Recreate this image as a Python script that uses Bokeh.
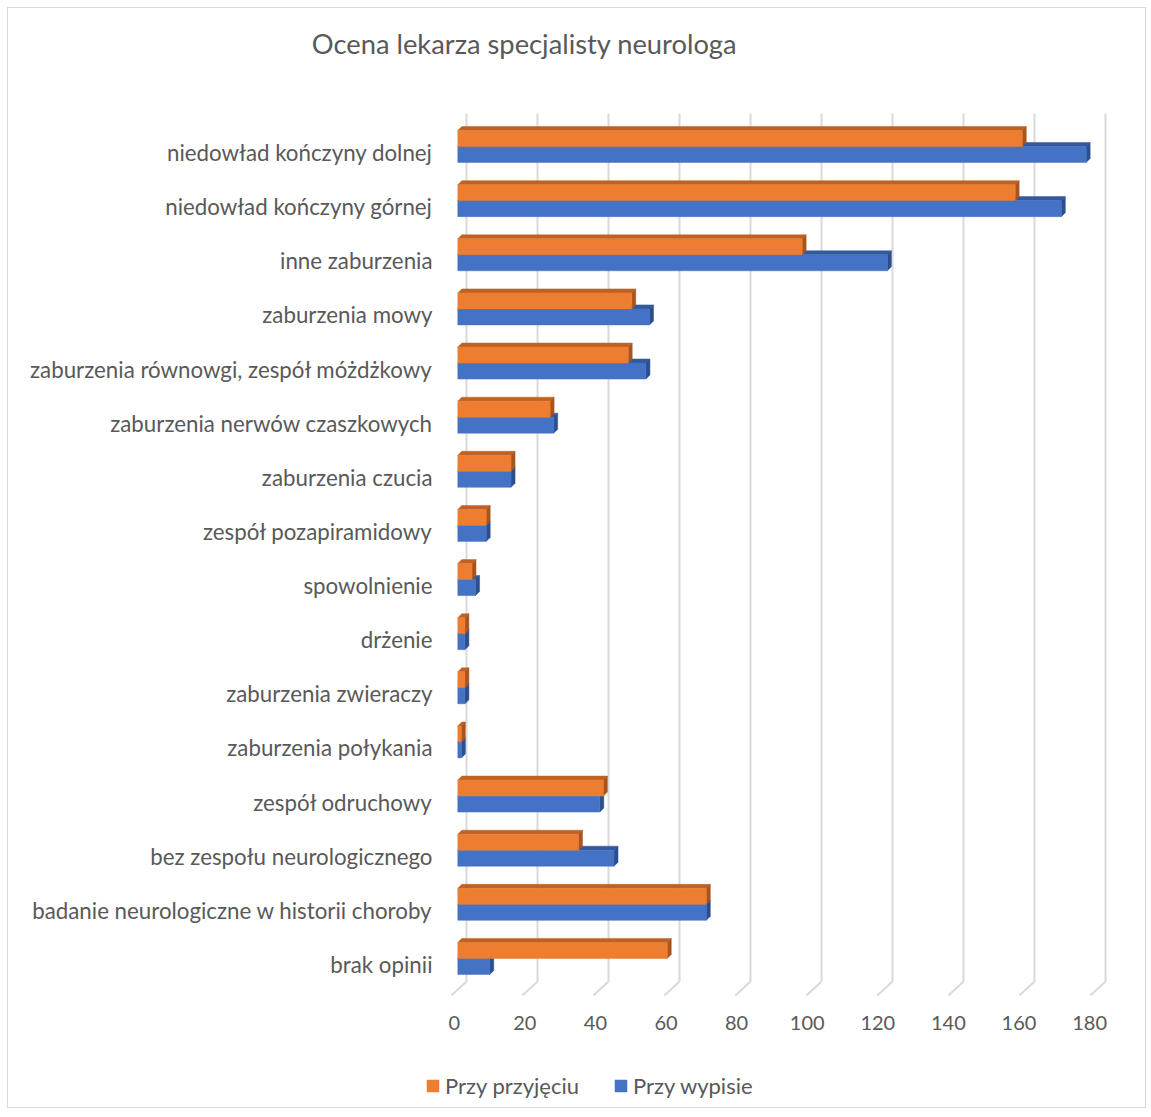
from bokeh.plotting import figure
from bokeh.models import (Range1d, LinearAxis, FixedTicker, ColumnDataSource,
                          Legend, LegendItem, Grid, Label)
from bokeh.embed import file_html
from bokeh.resources import INLINE

# ---------------- data ----------------
categories = [
    "niedowład kończyny dolnej",
    "niedowład kończyny górnej",
    "inne zaburzenia",
    "zaburzenia mowy",
    "zaburzenia równowgi, zespół móżdżkowy",
    "zaburzenia nerwów czaszkowych",
    "zaburzenia czucia",
    "zespół pozapiramidowy",
    "spowolnienie",
    "drżenie",
    "zaburzenia zwieraczy",
    "zaburzenia połykania",
    "zespół odruchowy",
    "bez zespołu neurologicznego",
    "badanie neurologiczne w historii choroby",
    "brak opinii",
]
przy_przyjeciu = [159, 157, 97, 49, 48, 26, 15, 8, 4, 2, 2, 1, 41, 34, 70, 59]
przy_wypisie = [177, 170, 121, 54, 53, 27, 15, 8, 5, 2, 2, 1, 40, 44, 70, 9]
x_ticks = [0, 20, 40, 60, 80, 100, 120, 140, 160, 180]
series_names = ["Przy przyjęciu", "Przy wypisie"]
title_text = "Ocena lekarza specjalisty neurologa"

# ---------------- style ----------------
FONT = "Lato"
TXT = "#595959"
GRID = "#d9d9d9"
ORANGE, ORANGE_TOP, ORANGE_SIDE = "#ED7D31", "#BE6224", "#A9541C"
BLUE, BLUE_TOP, BLUE_SIDE = "#4472C4", "#34589E", "#2B4F8C"

# page geometry (pixels)
OX, OY = 8, 8              # canvas origin on the page
W, H = 1139, 1101
X0 = 457.3                 # page x of value 0 (bar front)
PX_X = 3.55                # pixels per unit value
ROW0 = 152.0               # page y of first category
PX_Y = 54.13               # pixels per category row
FX0, FPX = 453.7, 3.53     # front (floor) plane used by the value axis


def vx(px):   # page x -> value
    return (px - X0) / PX_X


def vy(py):   # page y -> row coordinate
    return 15 + (ROW0 - py) / PX_Y


p = figure(width=W, height=H, output_backend="svg", toolbar_location=None,
           x_range=Range1d(vx(OX), vx(OX + W)), y_range=Range1d(vy(OY + H), vy(OY)),
           x_axis_location=None, y_axis_location=None,
           min_border=0, min_border_left=0, min_border_right=0,
           min_border_top=0, min_border_bottom=0)
p.outline_line_color = None
p.background_fill_color = "white"
p.border_fill_color = "white"
p.styles = {"border": "1px solid #d9d9d9", "margin-left": "7px", "margin-top": "7px"}
for r in list(p.center):
    if isinstance(r, Grid):
        r.visible = False

n = len(categories)
ypos = [n - 1 - i for i in range(n)]

# depth (3D) geometry in data units
dx = 4 / PX_X
dy = 4 / PX_Y
back_dx = 8.7 / PX_X
front_dx = -1.8

# ---------------- gridlines (back wall + floor) ----------------
g_top, back_bottom, floor_front = vy(113), vy(981), vy(995)
p.segment(x0=[t + back_dx for t in x_ticks], x1=[t + back_dx for t in x_ticks],
          y0=[g_top] * len(x_ticks), y1=[back_bottom] * len(x_ticks),
          line_color=GRID, line_width=2)
p.segment(x0=[t + back_dx for t in x_ticks], x1=[t + front_dx for t in x_ticks],
          y0=[back_bottom] * len(x_ticks), y1=[floor_front] * len(x_ticks),
          line_color=GRID, line_width=2)


def bar_faces(values, top_off, bot_off):
    fx, fy, tx, ty, sx, sy = [], [], [], [], [], []
    for v, y in zip(values, ypos):
        t, b = y + top_off, y + bot_off
        fx.append([0, v, v, 0]); fy.append([t, t, b, b])
        tx.append([0, v, v + dx, dx]); ty.append([t, t, t + dy, t + dy])
        sx.append([v, v + dx, v + dx, v]); sy.append([t, t + dy, b + dy, b])
    return (ColumnDataSource(dict(xs=fx, ys=fy)),
            ColumnDataSource(dict(xs=tx, ys=ty)),
            ColumnDataSource(dict(xs=sx, ys=sy)))


# blue (discharge) first, below
b_front, b_top, b_side = bar_faces(przy_wypisie, 0.111, -0.185)
p.patches("xs", "ys", source=b_top, fill_color=BLUE_TOP, line_color=BLUE_TOP, line_width=0.5)
p.patches("xs", "ys", source=b_side, fill_color=BLUE_SIDE, line_color=BLUE_SIDE, line_width=0.5)
r_blue = p.patches("xs", "ys", source=b_front, fill_color=BLUE, line_color=BLUE, line_width=0.5)

o_front, o_top, o_side = bar_faces(przy_przyjeciu, 0.406, 0.111)
p.patches("xs", "ys", source=o_top, fill_color=ORANGE_TOP, line_color=ORANGE_TOP, line_width=0.5)
p.patches("xs", "ys", source=o_side, fill_color=ORANGE_SIDE, line_color=ORANGE_SIDE, line_width=0.5)
r_orange = p.patches("xs", "ys", source=o_front, fill_color=ORANGE, line_color=ORANGE, line_width=0.5)

# ---------------- axes ----------------
yaxis = LinearAxis(ticker=FixedTicker(ticks=ypos), fixed_location=vx(447),
                   major_label_overrides={int(y): c for y, c in zip(ypos, categories)})
yaxis.axis_line_color = None
yaxis.major_tick_line_color = None
yaxis.minor_tick_line_color = None
yaxis.major_label_standoff = 9
yaxis.major_label_text_font = FONT
yaxis.major_label_text_font_size = "22.3px"
yaxis.major_label_text_color = TXT
p.add_layout(yaxis, "left")

p.extra_x_ranges = {"front": Range1d((OX - FX0) / FPX, (OX + W - FX0) / FPX)}
xaxis = LinearAxis(x_range_name="front", ticker=FixedTicker(ticks=x_ticks),
                   fixed_location=vy(997))
xaxis.axis_line_color = None
xaxis.major_tick_line_color = None
xaxis.minor_tick_line_color = None
xaxis.major_label_standoff = 12
xaxis.major_label_text_font = FONT
xaxis.major_label_text_font_size = "20px"
xaxis.major_label_text_color = TXT
p.add_layout(xaxis, "below")

# ---------------- title ----------------
title = Label(x=vx(524), y=vy(43), text=title_text,
              text_align="center", text_baseline="middle",
              text_font=FONT, text_font_size="27.3px", text_color=TXT)
p.add_layout(title)

# ---------------- legend ----------------
legend = Legend(items=[LegendItem(label=series_names[0], renderers=[r_orange]),
                       LegendItem(label=series_names[1], renderers=[r_blue])],
                orientation="horizontal", location=(425 - OX, (OY + H) - 1099),
                padding=0, margin=0, spacing=34, label_standoff=5,
                glyph_width=15, glyph_height=15,
                border_line_color=None, background_fill_alpha=0,
                label_text_font=FONT, label_text_font_size="22px",
                label_text_color=TXT)
p.add_layout(legend, "center")

open("out.html", "w").write(file_html(p, INLINE))
